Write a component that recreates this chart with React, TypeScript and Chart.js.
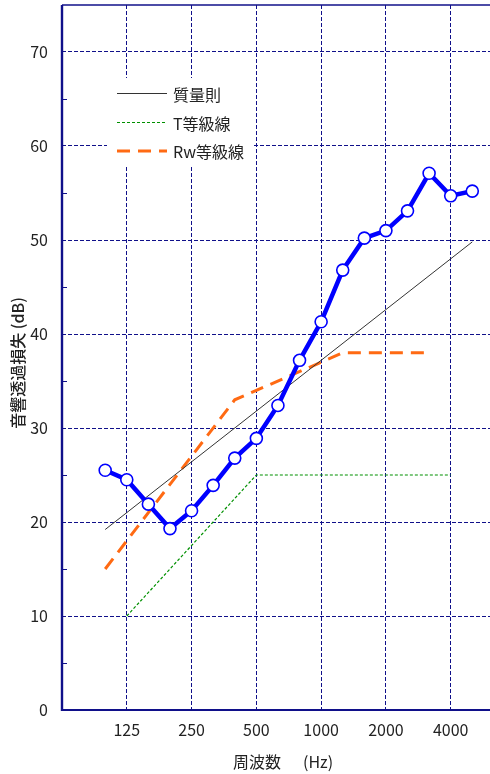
import React, { useEffect, useRef } from "react";
import { Chart, registerables } from "chart.js";

Chart.register(...registerables);

// 1/3 octave band centre frequencies (Hz)
const bands = ["100", "125", "160", "200", "250", "315", "400", "500", "630", "800", "1000", "1250", "1600", "2000", "2500", "3150", "4000", "5000"];
// measured sound transmission loss (dB)
const measured = [25.5, 24.5, 21.9, 19.3, 21.2, 23.9, 26.8, 28.9, 32.4, 37.2, 41.3, 46.8, 50.2, 51.0, 53.1, 57.1, 54.7, 55.2];
// mass law line
const massLawBands = ["100", "5000"];
const massLawValues = [19.2, 49.8];
// T-grade line
const tGradeBands = ["125", "500", "4000"];
const tGradeValues = [10, 25, 25];
// Rw reference curve
const rwBands = ["100", "400", "500", "1000", "1250", "3150"];
const rwValues = [15, 33, 34, 37, 38, 38];
// tick labels shown on the x axis
const xTickLabels = ["125", "250", "500", "1000", "2000", "4000"];
const yTicks = [0, 10, 20, 30, 40, 50, 60, 70];
const yMinorTicks = [5, 15, 25, 35, 45, 55, 65];

const legendItems = [
  { label: "質量則", color: "#333333", width: 1, dash: [] as number[] },
  { label: "T等級線", color: "#009000", width: 1.2, dash: [3, 2] },
  { label: "Rw等級線", color: "#FF6A13", width: 3, dash: [13, 8] },
];

const NAVY = "#10108a";
const TICK_FONT = "'Noto Sans CJK JP', sans-serif";
const CJK_FONT = "'Noto Sans CJK JP', sans-serif";

const toPts = (b: string[], v: number[]) => b.map((f, i) => ({ x: bands.indexOf(f), y: v[i] }));

const decorPlugin = {
  id: "decor",
  beforeDatasetsDraw(chart: any) {
    const ctx = chart.ctx;
    ctx.save();
    ctx.fillStyle = "#ffffff";
    ctx.fillRect(107, 78, 146, 88);
    const ys = [93.5, 122.5, 151];
    legendItems.forEach((it, i) => {
      ctx.beginPath();
      ctx.strokeStyle = it.color;
      ctx.lineWidth = it.width;
      ctx.setLineDash(it.dash);
      ctx.moveTo(117, ys[i]);
      ctx.lineTo(167, ys[i]);
      ctx.stroke();
      ctx.setLineDash([]);
      ctx.fillStyle = "#222222";
      ctx.font = "16px " + CJK_FONT;
      ctx.textBaseline = "middle";
      ctx.textAlign = "left";
      ctx.fillText(it.label, 173, ys[i] + 1);
    });
    ctx.restore();
  },
  afterDatasetsDraw(chart: any) {
    const ctx = chart.ctx;
    const { left, right, top, bottom } = chart.chartArea;
    const y = chart.scales.y;
    ctx.save();
    ctx.strokeStyle = NAVY;
    ctx.lineWidth = 1;
    yMinorTicks.forEach((v) => {
      const py = Math.round(y.getPixelForValue(v)) + 0.5;
      ctx.beginPath();
      ctx.moveTo(left, py);
      ctx.lineTo(left + 5, py);
      ctx.stroke();
    });
    ctx.lineWidth = 1.6;
    ctx.beginPath();
    ctx.moveTo(left, top);
    ctx.lineTo(right, top);
    ctx.stroke();
    ctx.lineWidth = 2.4;
    ctx.beginPath();
    ctx.moveTo(left, top);
    ctx.lineTo(left, bottom + 1);
    ctx.stroke();
    ctx.lineWidth = 2;
    ctx.beginPath();
    ctx.moveTo(left, bottom);
    ctx.lineTo(right, bottom);
    ctx.stroke();
    ctx.restore();
  },
  afterDraw(chart: any) {
    const ctx = chart.ctx;
    ctx.save();
    ctx.fillStyle = "#222222";
    ctx.font = "16px " + CJK_FONT;
    ctx.textBaseline = "middle";
    ctx.textAlign = "left";
    ctx.fillText("周波数", 233, 762);
    ctx.fillText("(Hz)", 303, 762);
    ctx.translate(18, 363);
    ctx.rotate(-Math.PI / 2);
    ctx.textAlign = "center";
    ctx.font = "500 16px " + CJK_FONT;
    ctx.fillText("音響透過損失 (dB)", 0, 0);
    ctx.restore();
  },
};

export default function App() {
  const ref = useRef<HTMLCanvasElement | null>(null);
  useEffect(() => {
    document.body.style.margin = "0";
    const canvas = ref.current!;
    const chart = new Chart(canvas, {
      type: "line",
      data: {
        datasets: [
          {
            label: "実測",
            data: toPts(bands, measured),
            borderColor: "#0000ff",
            borderWidth: 4.5,
            pointRadius: 6,
            pointBackgroundColor: "#ffffff",
            pointBorderColor: "#0000ff",
            pointBorderWidth: 1.6,
            tension: 0,
          },
          {
            label: "質量則",
            data: toPts(massLawBands, massLawValues),
            borderColor: "#333333",
            borderWidth: 1,
            pointRadius: 0,
          },
          {
            label: "Rw等級線",
            data: toPts(rwBands, rwValues),
            borderColor: "#FF6A13",
            borderWidth: 3,
            borderDash: [13, 8],
            pointRadius: 0,
          },
          {
            label: "T等級線",
            data: toPts(tGradeBands, tGradeValues),
            borderColor: "#009000",
            borderWidth: 1.2,
            borderDash: [3, 2],
            pointRadius: 0,
          },
        ],
      },
      options: {
        animation: false,
        responsive: false,
        maintainAspectRatio: false,
        layout: { autoPadding: false, padding: { top: 5, right: 0, left: 0, bottom: 0 } },
        plugins: { legend: { display: false }, tooltip: { enabled: false } },
        scales: {
          x: {
            type: "linear",
            min: -2,
            max: 17.82,
            afterFit: (s: any) => {
              s.height = 64;
              s.paddingLeft = 0;
              s.paddingRight = 0;
            },
            afterBuildTicks: (s: any) => {
              s.ticks = xTickLabels.map((l) => ({ value: bands.indexOf(l) }));
            },
            ticks: {
              autoSkip: false,
              maxRotation: 0,
              padding: 10,
              color: "#222222",
              font: { family: TICK_FONT, size: 16 },
              callback: (v: any) => bands[v as number],
            },
            grid: { color: NAVY, lineWidth: 1, drawTicks: false },
            border: { display: false, dash: [4, 2] },
          },
          y: {
            type: "linear",
            min: 0,
            max: 75,
            afterFit: (s: any) => {
              s.width = 62;
              s.paddingTop = 0;
              s.paddingBottom = 0;
            },
            afterBuildTicks: (s: any) => {
              s.ticks = yTicks.map((v) => ({ value: v }));
            },
            ticks: {
              padding: 14,
              color: "#222222",
              font: { family: TICK_FONT, size: 16 },
            },
            grid: { color: NAVY, lineWidth: 1, drawTicks: false },
            border: { display: false, dash: [4, 2] },
          },
        },
      },
      plugins: [decorPlugin],
    });
    return () => chart.destroy();
  }, []);
  return <canvas ref={ref} width={490} height={774} style={{ display: "block" }} />;
}
